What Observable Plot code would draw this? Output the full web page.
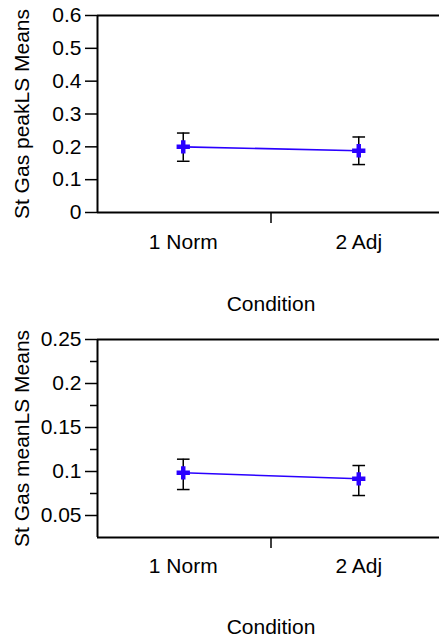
<!DOCTYPE html>
<html>
<head>
<meta charset="utf-8">
<script src="https://cdn.jsdelivr.net/npm/d3@7"></script>
<script src="https://cdn.jsdelivr.net/npm/@observablehq/plot@0.6"></script>
<style>
  html, body { margin: 0; padding: 0; background: #fff; }
  #chart svg { display: block; }
</style>
</head>
<body>
<div id="chart"></div>
<script>
const categories = ["1 Norm", "2 Adj"];
const xTitle = "Condition";

// Panel 1: St Gas peakLS Means
const peakLabel = "St Gas peakLS Means";
const peakMean = [0.200, 0.188];
const peakLo = [0.156, 0.146];
const peakHi = [0.242, 0.230];
const peakDomain = [0, 0.6];
const peakTicks = [0, 0.1, 0.2, 0.3, 0.4, 0.5, 0.6];
const peakMinor = [];

// Panel 2: St Gas meanLS Means
const meanLabel = "St Gas meanLS Means";
const meanMean = [0.0985, 0.0917];
const meanLo = [0.0795, 0.0727];
const meanHi = [0.114, 0.1068];
const meanDomain = [0.025, 0.25];
const meanTicks = [0.05, 0.1, 0.15, 0.2, 0.25];
const meanMinor = [0.075, 0.125, 0.175, 0.225];

const BLUE = "#2a00ff";
const FONT = "'Liberation Sans', Arial, Helvetica, sans-serif";

const capSymbol = {
  draw(context, size) {
    const r = Math.sqrt(size / Math.PI);
    context.moveTo(-r, 0);
    context.lineTo(r, 0);
  }
};

function panel({label, mean, lo, hi, domain, ticks, minor, height, marginTop, marginBottom, catDy, condDy}) {
  const data = categories.map((c, i) => ({cat: c, idx: i + 1, mean: mean[i], lo: lo[i], hi: hi[i]}));
  const mid = (1 + categories.length) / 2;
  return Plot.plot({
    width: 439,
    height,
    marginLeft: 97,
    marginRight: 0,
    marginTop,
    marginBottom,
    style: {fontFamily: FONT, fontSize: "21px", color: "black", background: "white", overflow: "visible"},
    x: {type: "linear", domain: [0.5, categories.length + 0.5], range: [95, 446], axis: null},
    y: {domain, axis: null},
    marks: [
      Plot.ruleY([domain[1]], {stroke: "black", strokeWidth: 2}),
      Plot.ruleY([domain[0]], {stroke: "black", strokeWidth: 2}),
      Plot.ruleX([0.5], {dx: 2, stroke: "black", strokeWidth: 2}),
      Plot.axisY({ticks, tickSize: 12, tickPadding: 4, tickFormat: d => String(d), fontSize: 21, label: null, strokeWidth: 1.5}),
      ...(minor.length ? [Plot.axisY({ticks: minor, tickSize: 7, tickFormat: () => "", label: null, strokeWidth: 1.5})] : []),
      Plot.axisX({ticks: d3.range(1.5, categories.length, 1), tickSize: 11, tickFormat: () => "", label: null, strokeWidth: 1.5}),
      Plot.ruleX(data, {x: "idx", y1: "lo", y2: "hi", stroke: "black", strokeWidth: 1.5}),
      Plot.dot(data, {x: "idx", y: "lo", symbol: capSymbol, r: 6.3, stroke: "black", fill: "none", strokeWidth: 1.5}),
      Plot.dot(data, {x: "idx", y: "hi", symbol: capSymbol, r: 6.3, stroke: "black", fill: "none", strokeWidth: 1.5}),
      Plot.line(data, {x: "idx", y: "mean", stroke: BLUE, strokeWidth: 1.6}),
      Plot.dot(data, {x: "idx", y: "mean", symbol: "cross", r: 5.6, fill: BLUE, stroke: "none"}),
      Plot.text(data, {x: "idx", text: "cat", frameAnchor: "bottom", lineAnchor: "middle", dy: catDy, fontSize: 21, fill: "black"}),
      Plot.text([xTitle], {x: () => mid, text: d => d, frameAnchor: "bottom", lineAnchor: "middle", dy: condDy, fontSize: 21, fill: "black"}),
      Plot.text([label], {text: d => d, frameAnchor: "left", textAnchor: "middle", lineAnchor: "middle", rotate: -90, dx: -75, fontSize: 21, fill: "black"})
    ]
  });
}

const chart = document.getElementById("chart");
chart.appendChild(panel({
  label: peakLabel, mean: peakMean, lo: peakLo, hi: peakHi,
  domain: peakDomain, ticks: peakTicks, minor: peakMinor,
  height: 320, marginTop: 15, marginBottom: 108, catDy: 30, condDy: 91.5
}));
chart.appendChild(panel({
  label: meanLabel, mean: meanMean, lo: meanLo, hi: meanHi,
  domain: meanDomain, ticks: meanTicks, minor: meanMinor,
  height: 321, marginTop: 19, marginBottom: 104, catDy: 28.5, condDy: 90
}));
</script>
</body>
</html>
